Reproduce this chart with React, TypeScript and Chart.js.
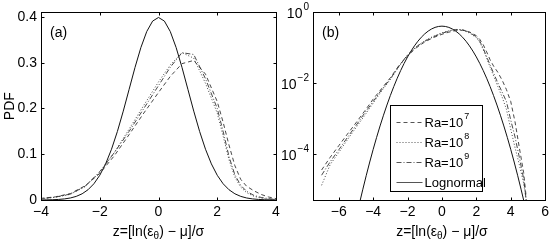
import React, { useEffect, useRef } from "react";
import { Chart, registerables } from "chart.js";

Chart.register(...registerables);

// ---------- data ----------
const gaussZ = [
  -4.8, -4.6, -4.4, -4.2, -4.0, -3.8, -3.6, -3.4, -3.2, -3.0, -2.8, -2.6, -2.4, -2.2, -2.0, -1.8, -1.6, -1.4,
  -1.2, -1.0, -0.8, -0.6, -0.4, -0.2, 0, 0.2, 0.4, 0.6, 0.8, 1.0, 1.2, 1.4, 1.6, 1.8, 2.0, 2.2, 2.4, 2.6, 2.8,
  3.0, 3.2, 3.4, 3.6, 3.8, 4.0, 4.2, 4.4, 4.6, 4.8,
];
const lognormalPdf = [
  0.00000396, 0.0000101, 0.0000249, 0.0000589, 0.000134, 0.000292, 0.000612, 0.00123, 0.00238, 0.00443,
  0.00792, 0.01358, 0.02239, 0.03547, 0.05399, 0.07895, 0.11092, 0.14973, 0.19419, 0.24197, 0.28969,
  0.33322, 0.36827, 0.39104, 0.39894, 0.39104, 0.36827, 0.33322, 0.28969, 0.24197, 0.19419, 0.14973,
  0.11092, 0.07895, 0.05399, 0.03547, 0.02239, 0.01358, 0.00792, 0.00443, 0.00238, 0.00123, 0.000612,
  0.000292, 0.000134, 0.0000589, 0.0000249, 0.0000101, 0.00000396,
];

const raZ = [
  -7, -6.5, -6, -5.5, -5, -4.5, -4, -3.5, -3, -2.5, -2, -1.5, -1, -0.5, 0, 0.4, 0.8, 1.2, 1.6, 2.0, 2.2, 2.4,
  2.6, 2.8, 3.0, 3.25, 3.5, 3.75, 4.0, 4.25, 4.5, 4.75, 4.9,
];
const ra7Pdf = [
  3.5e-5, 8e-5, 1.7e-4, 3.6e-4, 7.5e-4, 1.6e-3, 3.5e-3, 7e-3, 0.014, 0.031, 0.058, 0.097, 0.143, 0.19, 0.235,
  0.27, 0.298, 0.305, 0.275, 0.215, 0.17, 0.12, 0.075, 0.045, 0.03, 0.02, 0.012, 0.0065, 0.003, 8e-4, 1.5e-4,
  3e-5, 6e-6,
];
const ra8Pdf = [
  1.3e-5, 5e-5, 1.1e-4, 2.5e-4, 5.5e-4, 1.2e-3, 2.7e-3, 6e-3, 0.0125, 0.029, 0.06, 0.104, 0.155, 0.207, 0.258,
  0.295, 0.322, 0.31, 0.255, 0.19, 0.14, 0.088, 0.05, 0.028, 0.016, 0.008, 0.004, 0.0018, 5e-4, 1.5e-4, 5e-5,
  1.5e-5, 5e-6,
];
const ra9Pdf = [
  2.5e-5, 6e-5, 1.3e-4, 2.9e-4, 6.3e-4, 1.4e-3, 3e-3, 6.5e-3, 0.013, 0.03, 0.062, 0.104, 0.15, 0.2, 0.25,
  0.29, 0.322, 0.318, 0.265, 0.2, 0.15, 0.095, 0.055, 0.032, 0.019, 0.01, 0.0055, 0.003, 9e-4, 3e-4, 8e-5,
  2e-5, 5e-6,
];

// labels split as [base, superscript]
const seriesLabels: [string, string][] = [
  ["Ra=10", "7"],
  ["Ra=10", "8"],
  ["Ra=10", "9"],
  ["Lognormal", ""],
];

const xTicksA = [-4, -2, 0, 2, 4];
const xTickLabelsA = ["−4", "−2", "0", "2", "4"];
const yTicksA = [0, 0.1, 0.2, 0.3, 0.4];
const yTickLabelsA = ["0", "0.1", "0.2", "0.3", "0.4"];

const xTicksB = [-6, -4, -2, 0, 2, 4, 6];
const xTickLabelsB = ["−6", "−4", "−2", "0", "2", "4", "6"];
const yTicksB = [1, 1e-2, 1e-4];
const yTickLabelsB: [string, string][] = [
  ["10", "0"],
  ["10", "−2"],
  ["10", "−4"],
];

// ---------- styling ----------
const FONT = '"Liberation Sans", Arial, Helvetica, sans-serif';
const tickFont = { family: FONT, size: 14 };

function pts(xs: number[], ys: number[]) {
  return xs.map((x, i) => ({ x, y: ys[i] }));
}

function makeDatasets() {
  return [
    { label: seriesLabels[0].join(""), data: pts(raZ, ra7Pdf), borderColor: "#333", borderWidth: 0.9, borderDash: [4, 3] },
    { label: seriesLabels[1].join(""), data: pts(raZ, ra8Pdf), borderColor: "#333", borderWidth: 0.9, borderDash: [1, 2] },
    { label: seriesLabels[2].join(""), data: pts(raZ, ra9Pdf), borderColor: "#333", borderWidth: 0.9, borderDash: [5, 2, 1, 2] },
    { label: seriesLabels[3].join(""), data: pts(gaussZ, lognormalPdf), borderColor: "#111", borderWidth: 1, borderDash: [] },
  ].map((d) => ({ ...d, pointRadius: 0, fill: false, tension: 0, backgroundColor: "transparent" }));
}

// draw base text with a raised superscript; align 'left' or 'right'
function drawSup(
  ctx: CanvasRenderingContext2D,
  base: string,
  sup: string,
  x: number,
  y: number,
  align: "left" | "right",
  size = 14,
  supSize = 10
) {
  ctx.textAlign = "left";
  ctx.textBaseline = "middle";
  ctx.font = `${size}px ${FONT}`;
  const wb = ctx.measureText(base).width;
  ctx.font = `${supSize}px ${FONT}`;
  const ws = sup ? ctx.measureText(sup).width + 1 : 0;
  const x0 = align === "left" ? x : x - wb - ws;
  ctx.font = `${size}px ${FONT}`;
  ctx.fillText(base, x0, y);
  if (sup) {
    ctx.font = `${supSize}px ${FONT}`;
    ctx.fillText(sup, x0 + wb + 1, y - Math.round(size / 2));
  }
}

function framePlugin(id: string, tag: string, xTicks: number[], yTicks: number[], opts: { legend?: boolean; yLabels?: [string, string][] }) {
  return {
    id,
    afterDatasetsDraw(chart: any) {
      const { ctx, chartArea: a, scales } = chart;
      const xs = scales.x;
      const ys = scales.y;
      ctx.save();
      ctx.setLineDash([]);
      ctx.strokeStyle = "#000";
      ctx.lineWidth = 1;
      const l = Math.round(a.left) + 0.5;
      const r = Math.round(a.right) + 0.5;
      const t = Math.round(a.top) + 0.5;
      const b = Math.round(a.bottom) + 0.5;
      ctx.strokeRect(l, t, r - l, b - t);
      const L = 3;
      ctx.beginPath();
      for (const v of xTicks) {
        const px = Math.round(xs.getPixelForValue(v)) + 0.5;
        ctx.moveTo(px, b);
        ctx.lineTo(px, b - L);
        ctx.moveTo(px, t);
        ctx.lineTo(px, t + L);
      }
      for (const v of yTicks) {
        const py = Math.round(ys.getPixelForValue(v)) + 0.5;
        ctx.moveTo(l, py);
        ctx.lineTo(l + L, py);
        ctx.moveTo(r, py);
        ctx.lineTo(r - L, py);
      }
      ctx.stroke();

      ctx.fillStyle = "#000";

      // y tick labels with superscripts (log panel)
      if (opts.yLabels) {
        yTicks.forEach((v, i) => {
          const [base, sup] = opts.yLabels![i];
          drawSup(ctx, base, sup, a.left - 4, ys.getPixelForValue(v) + 2, "right");
        });
      }

      // panel tag
      ctx.font = `14px ${FONT}`;
      ctx.textAlign = "left";
      ctx.textBaseline = "middle";
      ctx.fillText(tag, a.left + 9, a.top + 21);

      // x-axis title with subscript
      const parts: [string, number, number][] = [
        ["z=[ln(ε", 14, 0],
        ["θ", 10, 4],
        [") − μ]/σ", 14, 0],
      ];
      let total = 0;
      for (const [s, sz] of parts) {
        ctx.font = `${sz}px ${FONT}`;
        total += ctx.measureText(s).width;
      }
      let cx = xs.getPixelForValue(0) - total / 2;
      const ty = 232;
      ctx.textBaseline = "middle";
      for (const [s, sz, dy] of parts) {
        ctx.font = `${sz}px ${FONT}`;
        ctx.fillText(s, cx, ty + dy);
        cx += ctx.measureText(s).width;
      }

      if (opts.legend) {
        const bx = Math.round(a.left + 77) + 0.5;
        const bh = 86;
        const bw = 92;
        const by = Math.round(a.bottom - 9 - bh) + 0.5;
        ctx.fillStyle = "#fff";
        ctx.fillRect(bx, by, bw, bh);
        ctx.strokeStyle = "#000";
        ctx.lineWidth = 1;
        ctx.strokeRect(bx, by, bw, bh);
        chart.data.datasets.forEach((ds: any, i: number) => {
          const ry = Math.round(by + 16 + i * 20) + 0.5;
          ctx.save();
          ctx.strokeStyle = "#555";
          ctx.lineWidth = 1;
          ctx.setLineDash(ds.borderDash || []);
          ctx.beginPath();
          ctx.moveTo(bx + 6, ry);
          ctx.lineTo(bx + 32, ry);
          ctx.stroke();
          ctx.restore();
          ctx.fillStyle = "#000";
          const [base, sup] = seriesLabels[i];
          drawSup(ctx, base, sup, bx + 34, ry + 1, "left", 13, 9);
        });
      }
      ctx.restore();
    },
  };
}

function setTicks(values: number[]) {
  return (scale: any) => {
    scale.ticks = values.map((v) => ({ value: v }));
  };
}

function labelFrom(values: number[], labels: string[]) {
  return (v: any) => {
    const i = values.findIndex((x) => Math.abs(x - Number(v)) < 1e-12);
    return i >= 0 ? labels[i] : "";
  };
}

function baseOptions() {
  return {
    animation: false as const,
    responsive: false,
    maintainAspectRatio: false,
    plugins: { legend: { display: false }, tooltip: { enabled: false } },
    elements: { point: { radius: 0 }, line: { tension: 0 } },
  };
}

export default function App() {
  const refA = useRef<HTMLCanvasElement | null>(null);
  const refB = useRef<HTMLCanvasElement | null>(null);

  useEffect(() => {
    Chart.defaults.font.family = FONT;
    Chart.defaults.color = "#000";

    const chartA = new Chart(refA.current as HTMLCanvasElement, {
      type: "line",
      data: { datasets: makeDatasets() as any },
      options: {
        ...baseOptions(),
        layout: { padding: { left: 0, right: 277, top: 12, bottom: 0 } },
        scales: {
          x: {
            type: "linear",
            min: -4,
            max: 4,
            afterFit: (s: any) => {
              s.height = 46;
            },
            afterBuildTicks: setTicks(xTicksA),
            grid: { display: false, drawTicks: false },
            border: { display: false },
            ticks: { font: tickFont, color: "#000", padding: 4, maxRotation: 0, autoSkip: false, callback: labelFrom(xTicksA, xTickLabelsA) },
          },
          y: {
            type: "linear",
            min: 0,
            max: 0.41,
            afterFit: (s: any) => {
              s.width = 41;
            },
            afterBuildTicks: setTicks(yTicksA),
            grid: { display: false, drawTicks: false },
            border: { display: false },
            title: { display: true, text: "PDF", font: { family: FONT, size: 14 }, color: "#000", padding: { top: 2, bottom: 0 } },
            ticks: { font: tickFont, color: "#000", padding: 4, autoSkip: false, callback: labelFrom(yTicksA, yTickLabelsA) },
          },
        },
      } as any,
      plugins: [framePlugin("frameA", "(a)", xTicksA, yTicksA, {})],
    });

    const chartB = new Chart(refB.current as HTMLCanvasElement, {
      type: "line",
      data: { datasets: makeDatasets() as any },
      options: {
        ...baseOptions(),
        layout: { padding: { left: 276, right: 4, top: 12, bottom: 0 } },
        scales: {
          x: {
            type: "linear",
            min: -7.5,
            max: 6,
            afterFit: (s: any) => {
              s.height = 46;
            },
            afterBuildTicks: setTicks(xTicksB),
            grid: { display: false, drawTicks: false },
            border: { display: false },
            ticks: { font: tickFont, color: "#000", padding: 4, maxRotation: 0, autoSkip: false, callback: labelFrom(xTicksB, xTickLabelsB) },
          },
          y: {
            type: "logarithmic",
            min: 5e-6,
            max: 1,
            afterFit: (s: any) => {
              s.width = 37;
            },
            afterBuildTicks: setTicks(yTicksB),
            grid: { display: false, drawTicks: false },
            border: { display: false },
            ticks: { display: false },
          },
        },
      } as any,
      plugins: [framePlugin("frameB", "(b)", xTicksB, yTicksB, { legend: true, yLabels: yTickLabelsB })],
    });

    return () => {
      chartA.destroy();
      chartB.destroy();
    };
  }, []);

  return (
    <div style={{ position: "fixed", left: 0, top: 0, width: 553, height: 246, background: "#fff" }}>
      <canvas ref={refA} width={553} height={246} style={{ position: "absolute", left: 0, top: 0 }} />
      <canvas ref={refB} width={553} height={246} style={{ position: "absolute", left: 0, top: 0 }} />
    </div>
  );
}
